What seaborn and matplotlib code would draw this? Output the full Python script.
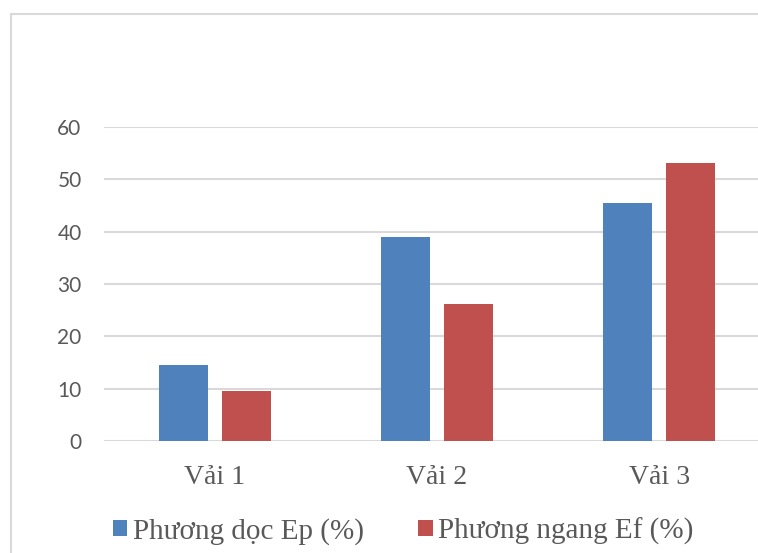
import pandas as pd
import matplotlib.pyplot as plt
import seaborn as sns
from matplotlib.lines import Line2D

# Data
categories = ["Vải 1", "Vải 2", "Vải 3"]
series_names = ["Phương dọc Ep (%)", "Phương ngang Ef (%)"]
doc_values = [14.6, 39.0, 45.4]
ngang_values = [9.5, 26.2, 53.2]
y_ticks = [0, 10, 20, 30, 40, 50, 60]

df = pd.DataFrame({
    "category": categories * 2,
    "series": [series_names[0]] * 3 + [series_names[1]] * 3,
    "value": doc_values + ngang_values,
})

sns.set_style("white")
gray = "#595959"
grid_color = "#D9D9D9"
palette = {series_names[0]: "#4F81BD", series_names[1]: "#C0504D"}

fig = plt.figure(figsize=(7.58, 5.53), dpi=100)
ax = fig.add_axes([0.137, 0.2025, 0.879, 0.5678])

sns.barplot(data=df, x="category", y="value", hue="series", palette=palette,
            width=0.563, gap=0.216, saturation=1, linewidth=0, ax=ax)

ax.set_ylim(0, 60)
ax.set_yticks(y_ticks)
ax.set_xlim(-0.5, 2.5)
ax.grid(axis="y", color=grid_color, linewidth=1.5)
ax.set_axisbelow(True)
for s in ax.spines.values():
    s.set_visible(False)
ax.set_xlabel("")
ax.set_ylabel("")
ax.tick_params(axis="both", length=0)
ax.tick_params(axis="y", pad=16, labelcolor=gray)
ax.tick_params(axis="x", pad=17, labelcolor=gray)
for lbl in ax.get_yticklabels():
    lbl.set_fontfamily("Lato")
    lbl.set_fontsize(15)
for lbl in ax.get_xticklabels():
    lbl.set_fontfamily("Liberation Serif")
    lbl.set_fontsize(20)

sns.move_legend(ax, "center", bbox_to_anchor=(0.532, 0.04),
                bbox_transform=fig.transFigure, ncol=2, frameon=False,
                title=None, prop={"family": "Liberation Serif", "size": 21},
                handlelength=0.5, handleheight=0.5, handletextpad=0.2,
                columnspacing=1.85, labelcolor=gray)

# Chart area border (left and top edges only are visible)
fig.add_artist(Line2D([0.0145, 0.0145], [0.0, 0.9747], transform=fig.transFigure,
                      color=grid_color, linewidth=1.5))
fig.add_artist(Line2D([0.0145, 1.0], [0.9747, 0.9747], transform=fig.transFigure,
                      color=grid_color, linewidth=1.5))

fig.savefig("out.png", dpi=100)
